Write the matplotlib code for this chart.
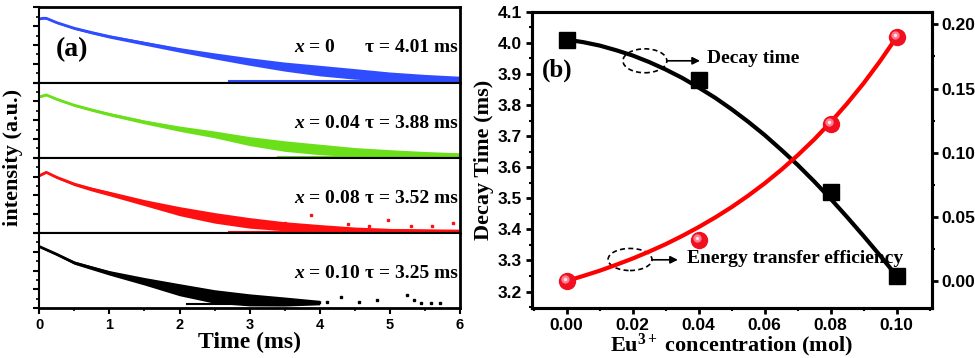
import matplotlib.pyplot as plt
import matplotlib.transforms as mtransforms
from matplotlib.patches import Ellipse
from matplotlib.ticker import MultipleLocator
import numpy as np

# sans for tick labels, serif for every other text (set per text)
plt.rcParams['font.family'] = 'Liberation Sans'
plt.rcParams['font.weight'] = 'bold'
plt.rcParams['axes.labelweight'] = 'bold'
plt.rcParams['mathtext.fontset'] = 'custom'
plt.rcParams['mathtext.rm'] = 'Liberation Serif:bold'
plt.rcParams['mathtext.it'] = 'Liberation Serif:italic:bold'
plt.rcParams['mathtext.bf'] = 'Liberation Serif:bold'
SERIF = 'Liberation Serif'

# ---- panel (a): decay curves (normalised intensity) ----
t_blue = [0, 0.05, 0.1, 0.25, 0.5, 0.75, 1, 1.5, 2, 2.5, 3, 3.5, 4, 4.5, 5, 5.5, 6]
i_blue = [0.845, 0.854, 0.854, 0.796, 0.721, 0.664, 0.611, 0.522, 0.434, 0.354, 0.279,
          0.212, 0.159, 0.115, 0.080, 0.058, 0.044]
w_blue = [0.01, 0.01, 0.01, 0.012, 0.015, 0.018, 0.02, 0.025, 0.03, 0.04, 0.05, 0.06,
          0.07, 0.07, 0.06, 0.05, 0.04]

t_green = [0, 0.1, 0.25, 0.5, 0.75, 1, 1.5, 2, 2.5, 3, 3.5, 4, 4.5, 5, 5.5, 6]
i_green = [0.809, 0.836, 0.778, 0.698, 0.636, 0.578, 0.476, 0.387, 0.311, 0.222, 0.156,
           0.111, 0.076, 0.058, 0.044, 0.036]
w_green = [0.01, 0.01, 0.012, 0.015, 0.018, 0.02, 0.025, 0.035, 0.045, 0.06, 0.07, 0.07,
           0.06, 0.05, 0.04, 0.03]

t_red = [0, 0.1, 0.25, 0.5, 0.75, 1, 1.5, 2, 2.5, 3, 3.5, 4, 4.5, 5, 5.5, 6]
i_red = [0.762, 0.807, 0.740, 0.650, 0.583, 0.525, 0.404, 0.291, 0.202, 0.135, 0.090,
         0.063, 0.045, 0.036, 0.031, 0.027]
w_red = [0.01, 0.01, 0.015, 0.02, 0.025, 0.03, 0.04, 0.06, 0.07, 0.07, 0.06, 0.05, 0.035,
         0.025, 0.02, 0.015]

t_black = [0, 0.25, 0.5, 0.75, 1, 1.5, 2, 2.5, 3, 3.5, 4]
i_black = [0.821, 0.717, 0.605, 0.538, 0.471, 0.359, 0.247, 0.157, 0.112, 0.090, 0.076]
w_black = [0.01, 0.015, 0.02, 0.025, 0.03, 0.05, 0.08, 0.09, 0.08, 0.06, 0.03]

# flat bottom rows of points in the tails: (t_start, t_end, level)
base_blue = (2.7, 6.0, 0.022)
base_green = (3.4, 6.0, 0.012)
base_red = (2.7, 6.0, 0.015)
base_black = (2.1, 3.3, 0.058)

# scattered tail points
dots_red_t = [3.5, 3.87, 4.4, 4.7, 4.97, 5.3, 5.6, 5.9]
dots_red_i = [0.14, 0.24, 0.12, 0.10, 0.18, 0.10, 0.10, 0.13]
dots_black_t = [4.1, 4.3, 4.56, 4.82, 5.25, 5.34, 5.45, 5.58, 5.72]
dots_black_i = [0.08, 0.156, 0.09, 0.11, 0.18, 0.11, 0.07, 0.07, 0.07]

labels_x = ['$x$ = 0', '$x$ = 0.04', '$x$ = 0.08', '$x$ = 0.10']
labels_tau = ['τ = 4.01 ms', 'τ = 3.88 ms', 'τ = 3.52 ms', 'τ = 3.25 ms']

# ---- panel (b) ----
conc = [0.0, 0.04, 0.08, 0.10]
tau = [4.01, 3.88, 3.52, 3.25]
eta = [0.0, 0.032, 0.122, 0.190]
# fitted curves
fit_conc = [0.0, 0.005, 0.01, 0.015, 0.02, 0.025, 0.03, 0.035, 0.04, 0.045, 0.05,
            0.055, 0.06, 0.065, 0.07, 0.075, 0.08, 0.085, 0.09, 0.095, 0.10]
fit_tau = [4.010, 4.002, 3.991, 3.976, 3.959, 3.938, 3.914, 3.887, 3.856, 3.823, 3.786,
           3.746, 3.703, 3.656, 3.607, 3.554, 3.498, 3.439, 3.378, 3.315, 3.250]
fit_eta = [0.0, 0.0039, 0.0080, 0.0126, 0.0175, 0.0229, 0.0287, 0.0351, 0.0420, 0.0495,
           0.0576, 0.0665, 0.0761, 0.0866, 0.0980, 0.1103, 0.1238, 0.1384, 0.1542,
           0.1715, 0.1902]

fig = plt.figure(figsize=(9.75, 3.58), dpi=100)

# ---------------- panel (a) ----------------
left, width = 0.0403, 0.4315
top, total_h = 0.9796, 0.8408
sub_h = total_h / 4
series = [
    (t_blue, i_blue, w_blue, '#2f4dff', base_blue, None, None),
    (t_green, i_green, w_green, '#6be01a', base_green, None, None),
    (t_red, i_red, w_red, '#ff1010', base_red, dots_red_t, dots_red_i),
    (t_black, i_black, w_black, '#000000', base_black, dots_black_t, dots_black_i),
]
axes_a = []
for k, (t, v, w, col, base, dt, di) in enumerate(series):
    ax = fig.add_axes([left, top - (k + 1) * sub_h, width, sub_h])
    axes_a.append(ax)
    t = np.array(t)
    v = np.array(v)
    w = np.array(w)
    ax.fill_between(t, np.maximum(v - w, 0.01), v + w, color=col, lw=0)
    ax.plot(t, v, color=col, lw=2, solid_joinstyle='round')
    ax.plot([base[0], base[1]], [base[2], base[2]], color=col, lw=1.5)
    if dt is not None:
        ax.plot(dt, di, ls='none', marker='s', ms=1.8, color=col)
    ax.set_xlim(0, 6)
    ax.set_ylim(0, 1)
    ax.yaxis.set_major_locator(MultipleLocator(0.25))
    ax.yaxis.set_minor_locator(MultipleLocator(0.125))
    ax.set_yticklabels([])
    ax.tick_params(axis='y', which='major', direction='out', length=4, width=1.5)
    ax.tick_params(axis='y', which='minor', direction='out', length=2.5, width=1.2)
    for s in ax.spines.values():
        s.set_linewidth(1.5)
    ax.spines['right'].set_linewidth(2)
    ax.text(0.605, 0.46, labels_x[k], transform=ax.transAxes, fontsize=14,
            family=SERIF, ha='left', va='center')
    ax.text(0.995, 0.46, labels_tau[k], transform=ax.transAxes, fontsize=14,
            family=SERIF, ha='right', va='center')
    if k < 3:
        ax.set_xticks([])
    else:
        ax.xaxis.set_major_locator(MultipleLocator(1))
        ax.xaxis.set_minor_locator(MultipleLocator(0.5))
        ax.tick_params(axis='x', which='major', direction='out', length=4, width=1.5,
                       labelsize=10.5, pad=3)
        ax.tick_params(axis='x', which='minor', direction='out', length=2.5, width=1.2)
        ax.spines['bottom'].set_linewidth(2)
        ax.set_xlabel('Time (ms)', fontsize=17, family=SERIF, labelpad=0)

axes_a[0].spines['top'].set_linewidth(2)
axes_a[0].text(0.04, 0.44, '(a)', transform=axes_a[0].transAxes, fontsize=20,
               family=SERIF, ha='left', va='center')
fig.text(0.0135, top - total_h / 2, 'intensity (a.u.)', rotation=90, fontsize=16,
         family=SERIF, ha='center', va='center')

# ---------------- panel (b) ----------------
axb = fig.add_axes([0.5453, 0.1388, 0.4103, 0.8286])
axr = axb.twinx()

axb.plot(fit_conc, fit_tau, color='black', lw=3, solid_joinstyle='round', zorder=2)
axb.plot(conc, tau, ls='none', marker='s', ms=12, color='black', zorder=3)
axr.plot(fit_conc, fit_eta, color='#ff0000', lw=3, solid_joinstyle='round', zorder=2)
axr.plot(conc, eta, ls='none', marker='o', ms=12.5, color='#f01020', mec='none', zorder=3)
hl1 = mtransforms.offset_copy(axr.transData, fig=fig, x=-1.5, y=1.5, units='points')
axr.plot(conc, eta, ls='none', marker='o', ms=6, color='#ff7d8e', mec='none',
         transform=hl1, zorder=4)
axr.plot(conc, eta, ls='none', marker='o', ms=2.5, color='#ffe0e6', mec='none',
         transform=hl1, zorder=5)

axb.set_xlim(-0.0106, 0.1106)
axb.set_ylim(3.146, 4.1)
axr.set_ylim(-0.0213, 0.2099)
axb.xaxis.set_major_locator(MultipleLocator(0.02))
axb.xaxis.set_minor_locator(MultipleLocator(0.01))
axb.yaxis.set_major_locator(MultipleLocator(0.1))
axb.yaxis.set_minor_locator(MultipleLocator(0.05))
axr.yaxis.set_major_locator(MultipleLocator(0.05))
axr.yaxis.set_minor_locator(MultipleLocator(0.025))
axb.xaxis.set_major_formatter(plt.FormatStrFormatter('%.2f'))
axb.yaxis.set_major_formatter(plt.FormatStrFormatter('%.1f'))
axr.yaxis.set_major_formatter(plt.FormatStrFormatter('%.2f'))

for a in (axb, axr):
    a.tick_params(which='major', direction='out', length=4, width=2,
                  labelsize=12.5, pad=3)
    a.tick_params(which='minor', direction='out', length=2.5, width=1.5)
    for s in a.spines.values():
        s.set_linewidth(2.2)

axb.set_xlabel('Eu$^{3+}$ concentration (mol)', fontsize=16, family=SERIF, labelpad=-1)
axb.set_ylabel('Decay Time (ms)', fontsize=16, family=SERIF, labelpad=3)

axb.text(-0.003, 3.9125, '(b)', fontsize=18, family=SERIF, ha='center', va='center')

# dashed ellipses with arrows
axb.add_patch(Ellipse((0.0237, 3.942), 0.0133, 0.077, fill=False, ls=(0, (3, 2)),
                      lw=1.2, ec='black', zorder=4))
axb.add_patch(Ellipse((0.0192, 3.303), 0.0133, 0.071, fill=False, ls=(0, (3, 2)),
                      lw=1.2, ec='black', zorder=4))
axb.annotate('', xy=(0.0404, 3.942), xytext=(0.0304, 3.942),
             arrowprops=dict(arrowstyle='-|>', color='black', lw=1.2,
                             mutation_scale=11, shrinkA=0, shrinkB=0))
axb.annotate('', xy=(0.0337, 3.302), xytext=(0.0259, 3.302),
             arrowprops=dict(arrowstyle='-|>', color='black', lw=1.2,
                             mutation_scale=11, shrinkA=0, shrinkB=0))
axb.text(0.0425, 3.951, 'Decay time', fontsize=14, family=SERIF, ha='left',
         va='center', zorder=5)
axb.text(0.0365, 3.305, 'Energy transfer efficiency', fontsize=14, family=SERIF,
         ha='left', va='center', zorder=5)

fig.savefig('out.png', dpi=100)
